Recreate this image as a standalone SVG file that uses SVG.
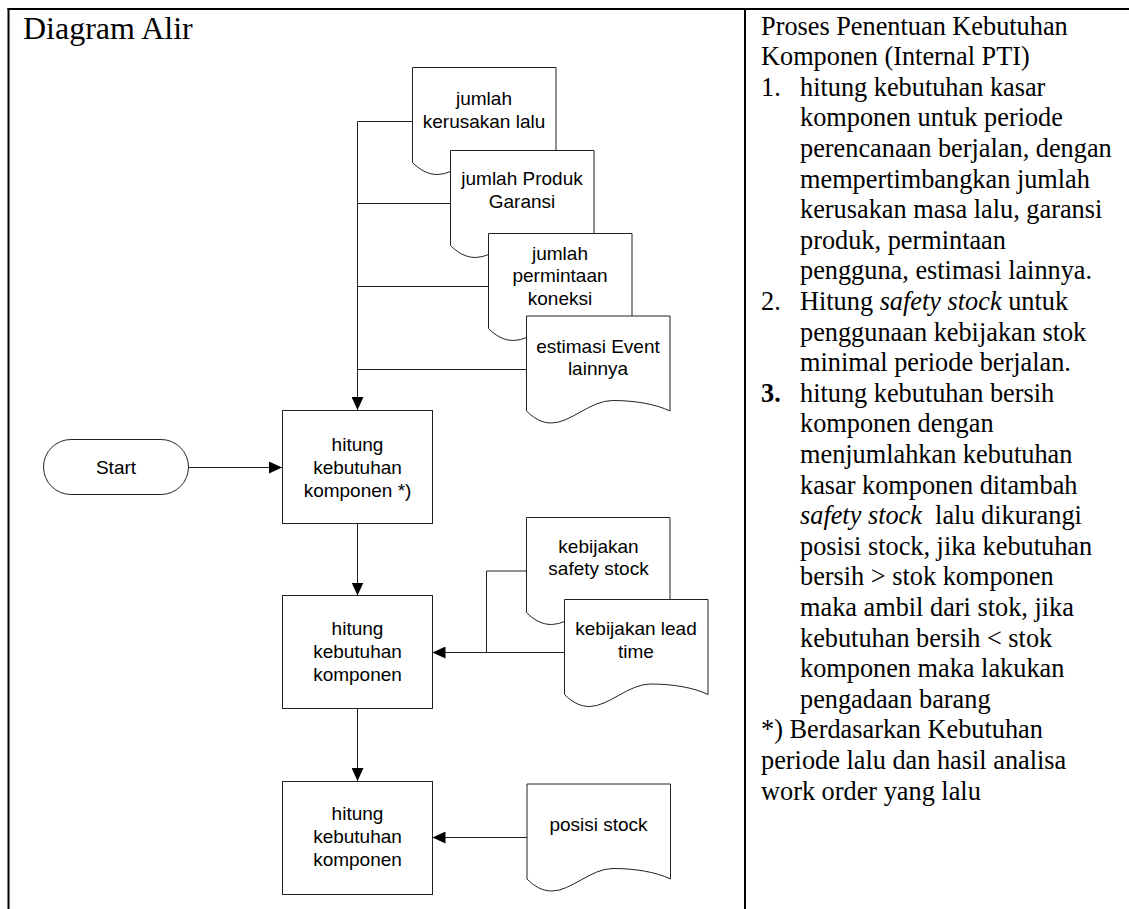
<svg xmlns="http://www.w3.org/2000/svg" width="1129" height="909" viewBox="0 0 1129 909">
  <style>
    .frame { stroke: #000; stroke-width: 2; fill: none; }
    .shape { fill: #fff; stroke: #222; stroke-width: 1; }
    .conn { fill: none; stroke: #222; stroke-width: 1; }
    .lbl { font-family: "Liberation Sans", Arial, sans-serif; font-size: 19px; fill: #000; text-anchor: middle; }
    .title { font-family: "Liberation Serif", "Times New Roman", serif; font-size: 32px; fill: #000; }
    .desc { font-family: "Liberation Serif", "Times New Roman", serif; font-size: 26.3px; fill: #000; }
  </style>
  <defs>
    <!-- document symbol: flat top, wavy bottom -->
    <path id="doc" d="M0,0 H143.5 V95 C129,88 108,84.5 86,84.5 C64,84.5 44,107 25,107 C15,107 7,102 0,95 Z"/>
    <marker id="arrow" markerUnits="userSpaceOnUse" markerWidth="14" markerHeight="12" refX="13" refY="6" orient="auto">
      <path d="M0,0 L13,6 L0,12 Z" fill="#000"/>
    </marker>
  </defs>

  <rect width="1129" height="909" fill="#fff"/>

  <!-- table frame -->
  <g id="frame">
    <line class="frame" x1="7.5" y1="9" x2="1129" y2="9"/>
    <line class="frame" x1="8.5" y1="8" x2="8.5" y2="909"/>
    <line class="frame" x1="745" y1="8" x2="745" y2="909"/>
  </g>

  <text class="title" x="23" y="39">Diagram Alir</text>

  <!-- connectors -->
  <g id="connectors">
    <path class="conn" d="M412.5,121.5 H357.5 V410" stroke-width="1.6" marker-end="url(#arrow)"/>
    <path class="conn" d="M450.5,203.5 H357.5"/>
    <path class="conn" d="M488.5,286.5 H357.5"/>
    <path class="conn" d="M526.5,369.5 H357.5"/>
    <path class="conn" d="M188.5,467.5 H282" marker-end="url(#arrow)"/>
    <path class="conn" d="M357.5,523.5 V595.5" marker-end="url(#arrow)"/>
    <path class="conn" d="M357.5,708.5 V781" marker-end="url(#arrow)"/>
    <path class="conn" d="M526.5,571 H486.5 V652.5 H432.5" marker-end="url(#arrow)"/>
    <path class="conn" d="M564.5,652.5 H486.5"/>
    <path class="conn" d="M527,837.5 H432.5" marker-end="url(#arrow)"/>
  </g>

  <!-- input documents -->
  <g id="doc-kerusakan">
    <use href="#doc" class="shape" x="412.5" y="67.5"/>
    <text class="lbl" x="484" y="104.5">jumlah</text>
    <text class="lbl" x="484" y="127.5">kerusakan lalu</text>
  </g>
  <g id="doc-garansi">
    <use href="#doc" class="shape" x="450.5" y="150.5"/>
    <text class="lbl" x="522" y="185">jumlah Produk</text>
    <text class="lbl" x="522" y="208">Garansi</text>
  </g>
  <g id="doc-permintaan">
    <use href="#doc" class="shape" x="488.5" y="233.5"/>
    <text class="lbl" x="560" y="259.5">jumlah</text>
    <text class="lbl" x="560" y="282">permintaan</text>
    <text class="lbl" x="560" y="304.5">koneksi</text>
  </g>
  <g id="doc-event">
    <use href="#doc" class="shape" x="526.5" y="316"/>
    <text class="lbl" x="598" y="352.5">estimasi Event</text>
    <text class="lbl" x="598" y="375">lainnya</text>
  </g>

  <g id="start">
    <rect class="shape" x="43.5" y="439.5" width="145" height="55" rx="27.5"/>
    <text class="lbl" x="116" y="474">Start</text>
  </g>

  <g id="proc-1">
    <rect class="shape" x="282.5" y="410.5" width="150" height="113"/>
    <text class="lbl" x="357.5" y="451">hitung</text>
    <text class="lbl" x="357.5" y="474">kebutuhan</text>
    <text class="lbl" x="357.5" y="497">komponen *)</text>
  </g>

  <g id="doc-safety">
    <use href="#doc" class="shape" x="526.5" y="517.5"/>
    <text class="lbl" x="598.5" y="552.5">kebijakan</text>
    <text class="lbl" x="598.5" y="575">safety stock</text>
  </g>
  <g id="doc-lead">
    <use href="#doc" class="shape" x="564.5" y="599.5"/>
    <text class="lbl" x="636" y="634.5">kebijakan lead</text>
    <text class="lbl" x="636" y="657.5">time</text>
  </g>

  <g id="proc-2">
    <rect class="shape" x="282.5" y="595.5" width="150" height="113"/>
    <text class="lbl" x="357.5" y="635">hitung</text>
    <text class="lbl" x="357.5" y="658">kebutuhan</text>
    <text class="lbl" x="357.5" y="681">komponen</text>
  </g>

  <g id="doc-posisi">
    <use href="#doc" class="shape" x="527" y="784"/>
    <text class="lbl" x="598.5" y="830.5">posisi stock</text>
  </g>

  <g id="proc-3">
    <rect class="shape" x="282.5" y="781.5" width="150" height="113"/>
    <text class="lbl" x="357.5" y="820">hitung</text>
    <text class="lbl" x="357.5" y="843">kebutuhan</text>
    <text class="lbl" x="357.5" y="866">komponen</text>
  </g>

  <!-- process description, 30.6px line pitch -->
  <g id="description" class="desc">
    <text x="761" y="34.5">Proses Penentuan Kebutuhan</text>
    <text x="761" y="65.1">Komponen (Internal PTI)</text>
    <text x="761" y="95.7">1.</text>
    <text x="800" y="95.7">hitung kebutuhan kasar</text>
    <text x="800" y="126.3">komponen untuk periode</text>
    <text x="800" y="156.9">perencanaan berjalan, dengan</text>
    <text x="800" y="187.5">mempertimbangkan jumlah</text>
    <text x="800" y="218.1">kerusakan masa lalu, garansi</text>
    <text x="800" y="248.7">produk, permintaan</text>
    <text x="800" y="279.3">pengguna, estimasi lainnya.</text>
    <text x="761" y="309.9">2.</text>
    <text x="800" y="309.9">Hitung <tspan font-style="italic">safety stock</tspan> untuk</text>
    <text x="800" y="340.5">penggunaan kebijakan stok</text>
    <text x="800" y="371.1">minimal periode berjalan.</text>
    <text x="761" y="401.7" font-weight="bold">3.</text>
    <text x="800" y="401.7">hitung kebutuhan bersih</text>
    <text x="800" y="432.3">komponen dengan</text>
    <text x="800" y="462.9">menjumlahkan kebutuhan</text>
    <text x="800" y="493.5">kasar komponen ditambah</text>
    <text x="800" y="524.1" xml:space="preserve"><tspan font-style="italic">safety stock</tspan>  lalu dikurangi</text>
    <text x="800" y="554.7">posisi stock, jika kebutuhan</text>
    <text x="800" y="585.3">bersih &gt; stok komponen</text>
    <text x="800" y="615.9">maka ambil dari stok, jika</text>
    <text x="800" y="646.5">kebutuhan bersih &lt; stok</text>
    <text x="800" y="677.1">komponen maka lakukan</text>
    <text x="800" y="707.7">pengadaan barang</text>
    <text x="761" y="738.3">*) Berdasarkan Kebutuhan</text>
    <text x="761" y="768.9">periode lalu dan hasil analisa</text>
    <text x="761" y="799.5">work order yang lalu</text>
  </g>
</svg>
